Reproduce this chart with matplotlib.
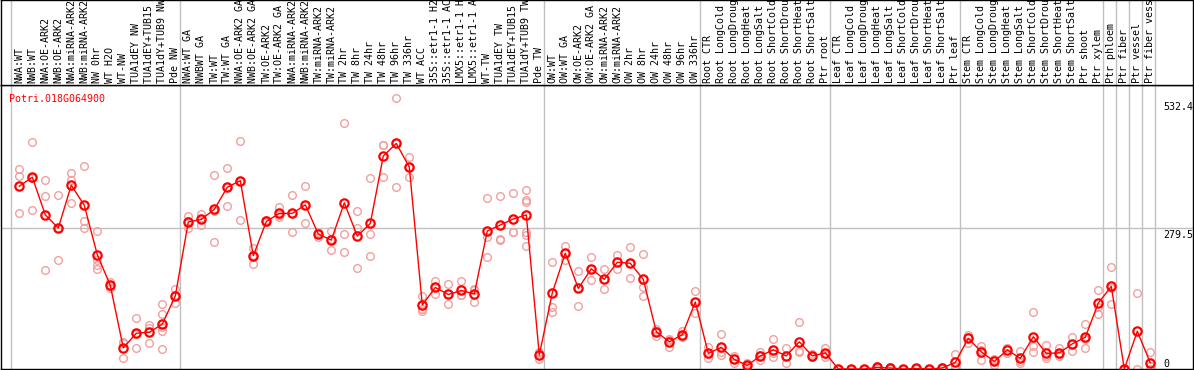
import matplotlib
matplotlib.use('Agg')
import matplotlib.pyplot as plt

labels = ['NWA:WT', 'NWB:WT', 'NWA:OE-ARK2', 'NWB:OE-ARK2', 'NWA:miRNA-ARK2', 'NWB:miRNA-ARK2',
          'NW 0hr', 'WT H2O', 'WT-NW', 'TUA1dEY NW', 'TUA1dEY+TUB15 NW', 'TUA1dY+TUB9 NW', 'Pde NW',
          'NWA:WT GA', 'NWBWT GA', 'TW:WT', 'TW:WT GA', 'NWA:OE-ARK2 GA', 'NWB:OE-ARK2 GA',
          'TW:OE-ARK2', 'TW:OE-ARK2 GA', 'NWA:miRNA-ARK2', 'NWB:miRNA-ARK2', 'TW:miRNA-ARK2',
          'TW:miRNA-ARK2', 'TW 2hr', 'TW 8hr', 'TW 24hr', 'TW 48hr', 'TW 96hr', 'TW 336hr', 'WT ACC',
          '35S::etr1-1 H2O', '35S::etr1-1 ACC', 'LMX5::etr1-1 H2O', 'LMX5::etr1-1 ACC', 'WT-TW',
          'TUA1dEY TW', 'TUA1dEY+TUB15 TW', 'TUA1dY+TUB9 TW', 'Pde TW', 'OW:WT', 'OW:WT GA',
          'OW:OE-ARK2', 'OW:OE-ARK2 GA', 'OW:miRNA-ARK2', 'OW:miRNA-ARK2', 'OW 2hr', 'OW 8hr',
          'OW 24hr', 'OW 48hr', 'OW 96hr', 'OW 336hr', 'Root CTR', 'Root LongCold',
          'Root LongDrought', 'Root LongHeat', 'Root LongSalt', 'Root ShortCold', 'Root ShortDrought',
          'Root ShortHeat', 'Root ShortSalt', 'Ptr root', 'Leaf CTR', 'Leaf LongCold',
          'Leaf LongDrought', 'Leaf LongHeat', 'Leaf LongSalt', 'Leaf ShortCold', 'Leaf ShortDrought',
          'Leaf ShortHeat', 'Leaf ShortSalt', 'Ptr leaf', 'Stem CTR', 'Stem LongCold',
          'Stem LongDrought', 'Stem LongHeat', 'Stem LongSalt', 'Stem ShortCold', 'Stem ShortDrought',
          'Stem ShortHeat', 'Stem ShortSalt', 'Ptr shoot', 'Ptr xylem', 'Ptr phloem', 'Ptr fiber',
          'Ptr vessel', 'Ptr fiber vessel']

means = [363, 381, 306, 280, 365, 325, 227, 166, 42, 71, 73, 89, 145,
         292, 297, 317, 361, 374, 225, 293, 309, 309, 326, 268, 256, 330, 264, 289, 423, 448, 401,
         127, 162, 148, 156, 149, 274, 286, 298, 306, 28,
         151, 230, 160, 199, 178, 212, 210, 178, 74, 54, 68, 133,
         31, 43, 19, 7, 26, 38, 26, 54, 26, 32,
         0, 0, 0, 3, 2, 0, 1, 0, 2, 13,
         61, 34, 15, 38, 21, 64, 31, 32, 50, 63, 131,
         164, 0, 75, 12]

reps = [[397, 384, 309], [450, 315, 380], [376, 343, 196], [345, 216, 280], [389, 375, 329],
        [403, 293, 280], [274, 217, 207, 198], [172, 160, 164], [54, 21, 51], [101, 42, 70],
        [87, 81, 51], [129, 109, 84, 76, 39], [158, 131, 146],
        [303, 280, 293], [307, 286, 298], [385, 313, 252], [399, 323, 361], [453, 296, 374],
        [241, 208, 226], [296, 291, 292], [321, 301, 306], [345, 272, 310], [363, 289, 326],
        [273, 263, 268], [274, 236, 258], [488, 268, 232], [314, 281, 200], [379, 268, 225],
        [445, 445, 381], [538, 361, 448], [421, 381, 401],
        [144, 119, 116], [174, 149, 162], [169, 129, 148], [175, 147, 146], [158, 133, 157],
        [339, 263, 223], [343, 258, 257], [349, 273, 272], [356, 336, 332, 273, 266, 244],
        [34, 19, 31],
        [212, 124, 113], [244, 217, 230], [194, 125, 160], [222, 176, 199], [198, 158, 178],
        [226, 198, 212], [242, 180, 210], [228, 162, 144], [79, 66, 76], [59, 44, 58],
        [76, 64, 65], [154, 111, 134],
        [43, 21, 30], [69, 27, 33], [26, 11, 20], [12, 3, 6], [33, 18, 27], [60, 23, 31],
        [41, 11, 26], [93, 36, 33], [30, 23, 25], [42, 24, 30],
        [0, 0, 0], [0, 0, 0], [0, 0, 0], [6, 2, 0], [3, 2, 0], [0, 0, 0], [2, 1, 0], [0, 0, 0],
        [3, 2, 0], [30, 5, 4],
        [68, 52, 63], [46, 18, 38], [19, 8, 18], [41, 31, 42], [36, 15, 12], [113, 46, 33],
        [47, 25, 22], [41, 26, 29], [64, 36, 50], [89, 41, 59], [157, 124, 109],
        [202, 129, 161], [0, 0, 0], [150, 0], [34, 5, 0]]

group_ends = [-1, 12, 40, 52, 62, 72, 83, 84, 85, 86, 87]
tick_vals = [532.4, 279.5, 0]
gene = 'Potri.018G064900'

W, H = 1194, 370
fig = plt.figure(figsize=(W / 100, H / 100), dpi=100)
plt.rcParams['font.family'] = 'DejaVu Sans Mono'
fs = 7.2

# pixel geometry: column i sits at x = 19.3 + 13*i
x0, x1 = 1.3, 1193
xl = ((x0 - 19.3) / 13, (x1 - 19.3) / 13)

ax = fig.add_axes([x0 / W, (H - 369) / H, (x1 - x0) / W, (369 - 85) / H])
top = fig.add_axes([x0 / W, (H - 85) / H, (x1 - x0) / W, 85 / H])

for a in (ax, top):
    a.set_xlim(*xl)
    a.set_xticks([])
    a.set_yticks([])
    for s in a.spines.values():
        s.set_linewidth(1.0)
        s.set_color('black')
    for g in group_ends:
        a.axvline(g + 0.385, color='#c0c0c0', lw=1.0, zorder=0)

ax.set_ylim(0, 564)
ax.axhline(279.5, color='#c0c0c0', lw=1.0, zorder=0)
top.set_ylim(0, 1)

for i, lab in enumerate(labels):
    top.text(i, 0.025, lab, rotation=90, ha='center', va='bottom', fontsize=fs, color='black')

for i, r in enumerate(reps):
    ax.plot([i] * len(r), r, 'o', ms=5.5, mfc='none', mec='#f0a0a0', mew=1.0, zorder=2)

ax.plot(range(len(means)), means, '-', color='#ff0000', lw=1.0, zorder=3)
ax.plot(range(len(means)), means, 'o', ms=6, mfc='none', mec='#ff0000', mew=1.6, zorder=4)

fig.text(9.3 / W, 1 - 99 / H, gene, color='#ff0000', fontsize=fs, va='center', ha='left')

xt = 1 - (x1 - 1163) / (x1 - x0)
for v in tick_vals:
    if v == 0:
        ax.text(xt, v, '0', transform=ax.get_yaxis_transform(), fontsize=fs, va='bottom', ha='left')
    else:
        ax.text(xt, v - 3, f'{v}', transform=ax.get_yaxis_transform(), fontsize=fs, va='top', ha='left')

fig.savefig('out.png', dpi=100)
